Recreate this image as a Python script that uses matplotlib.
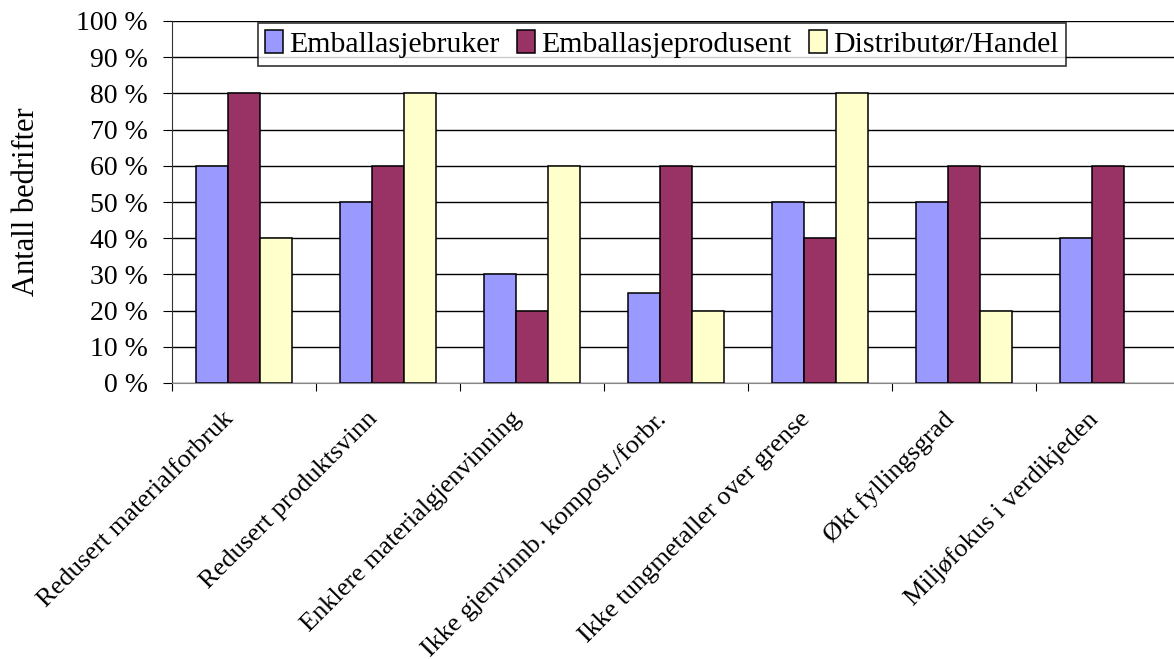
import numpy as np
import matplotlib
matplotlib.use('Agg')
import matplotlib.pyplot as plt
from matplotlib.ticker import FuncFormatter

plt.rcParams['font.family'] = ['Liberation Serif', 'DejaVu Serif']

categories = ['Redusert materialforbruk', 'Redusert produktsvinn',
              'Enklere materialgjenvinning', 'Ikke gjenvinnb. kompost./forbr.',
              'Ikke tungmetaller over grense', 'Økt fyllingsgrad',
              'Miljøfokus i verdikjeden']
bruker = [60, 50, 30, 25, 50, 50, 40]
produsent = [80, 60, 20, 60, 40, 60, 60]
handel = [40, 80, 60, 20, 80, 20, 0]
series = ['Emballasjebruker', 'Emballasjeprodusent', 'Distributør/Handel']
colors = ['#9999FF', '#993366', '#FFFFCC']

fig = plt.figure(figsize=(11.74, 6.59), dpi=100)
# plot area runs past the right edge of the picture, like the original crop
ax = fig.add_axes([172/1174, 1-383/659, (1180-172)/1174, (383-21)/659])

x = np.arange(len(categories))
w = 0.222
for i, (vals, name, c) in enumerate(zip([bruker, produsent, handel], series, colors)):
    bars = ax.bar(x + (i-1)*w, vals, w, color=c, edgecolor='black', linewidth=1.1,
                  label=name, zorder=3)
    for b, v in zip(bars, vals):
        if v == 0:
            b.set_visible(False)  # no flat outline for empty bars

ax.set_xlim(-0.5, len(categories)-0.5)
ax.set_ylim(0, 100)
ax.set_yticks(range(0, 101, 10))
ax.yaxis.set_major_formatter(FuncFormatter(lambda v, p: '%d %%' % v))
ax.grid(axis='y', color='black', linewidth=1, zorder=0)
ax.set_xticks(np.arange(len(categories)+1) - 0.5)
ax.set_xticklabels([])
# rotated labels sit a little left of the group centre
ax.set_xticks(x - 0.15, minor=True)
ax.set_xticklabels(categories, minor=True, rotation=45, ha='right', va='top',
                   rotation_mode='anchor', fontsize=19)
ax.tick_params(axis='x', which='minor', length=0, pad=18)
ax.tick_params(axis='x', which='major', length=6, direction='out')
ax.tick_params(axis='y', length=6.5, direction='out', labelsize=20, pad=11)
for s in ['top', 'right']:
    ax.spines[s].set_visible(False)
ax.spines['left'].set_color('#333333')
ax.spines['bottom'].set_color('#888888')
ax.set_ylabel('Antall bedrifter', fontsize=22, labelpad=25)

leg = ax.legend(loc='upper center', bbox_to_anchor=(0.486, 0.995), ncol=3,
                fontsize=21.5, frameon=True, fancybox=False, edgecolor='black',
                handlelength=0.6, handleheight=0.8, handletextpad=0.2,
                columnspacing=0.6, borderpad=0.25, borderaxespad=0.0)
leg.get_frame().set_linewidth(1.2)
leg.set_zorder(5)

fig.savefig('out.png', dpi=100)
